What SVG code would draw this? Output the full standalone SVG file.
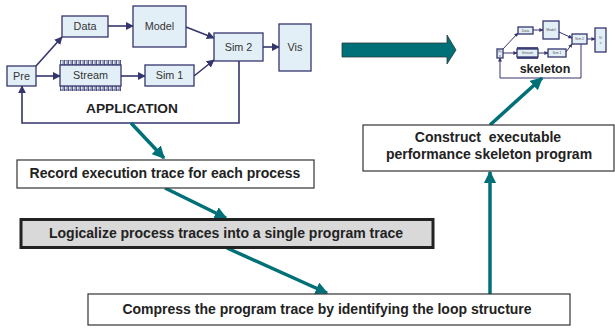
<svg xmlns="http://www.w3.org/2000/svg" width="615" height="329" viewBox="0 0 615 329">
<defs>
<style>
.n{fill:#e3eff7;stroke:#35356e;stroke-width:1.3}
.t{font-family:"Liberation Sans",Arial,sans-serif;font-size:10.8px;fill:#333;text-anchor:middle}
.mt{font-family:"Liberation Sans",Arial,sans-serif;font-size:3.5px;fill:#555;text-anchor:middle}
.b{font-family:"Liberation Sans",Arial,sans-serif;font-weight:bold;fill:#222;text-anchor:middle}
.c{fill:none;stroke:#35356e;stroke-width:1.6}
.mc{fill:none;stroke:#35356e;stroke-width:1}
.tl{fill:none;stroke:#007078;stroke-width:3.5}
.box{fill:#fff;stroke:#333;stroke-width:1.2}
</style>
<marker id="a" viewBox="0 0 10 10" refX="9" refY="5" markerWidth="5" markerHeight="5" orient="auto" markerUnits="strokeWidth"><path d="M0,0L10,5L0,10z" fill="#35356e"/></marker>
<marker id="ma" viewBox="0 0 10 10" refX="9" refY="5" markerWidth="4" markerHeight="4" orient="auto" markerUnits="strokeWidth"><path d="M0,0L10,5L0,10z" fill="#35356e"/></marker>
<marker id="ta" viewBox="0 0 10 10" refX="9" refY="5" markerWidth="3.6" markerHeight="3.6" orient="auto" markerUnits="strokeWidth"><path d="M0,0L10,5L0,10z" fill="#007078"/></marker>
<pattern id="tk" width="4" height="5" patternUnits="userSpaceOnUse"><rect x="0.5" y="0" width="2.6" height="5" fill="#e3eff7" stroke="#35356e" stroke-width="0.8"/></pattern>
<pattern id="mtk" width="1.6" height="2" patternUnits="userSpaceOnUse"><rect x="0" y="0" width="1.6" height="2" fill="#35356e"/><rect x="0.4" y="0.4" width="0.8" height="1.2" fill="#8a8ac0"/></pattern>
</defs>
<g id="connectors">
<path class="c" d="M36,66L62,37" marker-end="url(#a)"/>
<path class="c" d="M36,76L60,76" marker-end="url(#a)"/>
<path class="c" d="M108,26L133,26" marker-end="url(#a)"/>
<path class="c" d="M121,76L145,76" marker-end="url(#a)"/>
<path class="c" d="M186,27L214,38" marker-end="url(#a)"/>
<path class="c" d="M194,76L214,60" marker-end="url(#a)"/>
<path class="c" d="M263,47L279,47" marker-end="url(#a)"/>
<path class="c" d="M239,61L239,123L22,123L22,86" marker-end="url(#a)"/>
<path class="mc" d="M503,49L518,33" marker-end="url(#ma)"/>
<path class="mc" d="M503,53L517,53" marker-end="url(#ma)"/>
<path class="mc" d="M533,30L543,30" marker-end="url(#ma)"/>
<path class="mc" d="M538,53L548,53" marker-end="url(#ma)"/>
<path class="mc" d="M559,32L572,38" marker-end="url(#ma)"/>
<path class="mc" d="M566,52L572,44" marker-end="url(#ma)"/>
<path class="mc" d="M587,39L595,39" marker-end="url(#ma)"/>
<path class="mc" d="M581,44L581,78L500,78L500,58" marker-end="url(#ma)"/>
<path d="M342,43L447,43L447,35L456,50L447,64L447,57L342,57z" fill="#007078" stroke="#2a3a3a" stroke-width="0.8"/>
<path class="tl" d="M131,123L164,158" marker-end="url(#ta)"/>
<path class="tl" d="M165,188L226,218" marker-end="url(#ta)"/>
<path class="tl" d="M227,248L327,293" marker-end="url(#ta)"/>
<path class="tl" d="M490,294L490,172" marker-end="url(#ta)"/>
<path class="tl" d="M490,125L542,78" marker-end="url(#ta)"/>
</g>
<g id="pre"><rect class="n" x="7" y="66" width="29" height="20"/><text class="t" x="21.5" y="80">Pre</text></g>
<g id="data"><rect class="n" x="62" y="16" width="46" height="21"/><text class="t" x="85" y="30">Data</text></g>
<g id="model"><rect class="n" x="133" y="6" width="53" height="41"/><text class="t" x="159.5" y="30">Model</text></g>
<g id="stream"><rect x="60" y="60" width="61" height="5" fill="url(#tk)"/><rect x="60" y="86" width="61" height="5" fill="url(#tk)"/><rect class="n" x="60" y="65" width="61" height="21"/><text class="t" x="90.5" y="79">Stream</text></g>
<g id="sim1"><rect class="n" x="145" y="65" width="49" height="21"/><text class="t" x="169.5" y="79">Sim 1</text></g>
<g id="sim2"><rect class="n" x="214" y="33" width="49" height="28"/><text class="t" x="238.5" y="51">Sim 2</text></g>
<g id="vis"><rect class="n" x="279" y="24" width="32" height="47"/><text class="t" x="295" y="51">Vis</text></g>
<g id="app-label"><text class="b" x="132" y="113" font-size="13.7">APPLICATION</text></g>
<g id="skeleton">
<rect class="n" x="497" y="49" width="6" height="9" stroke-width="0.8"/><text class="mt" x="500" y="53">Pr</text><text class="mt" x="500" y="57">e</text>
<rect class="n" x="518" y="27" width="15" height="7" stroke-width="0.8"/><text class="mt" x="525.5" y="31.5">Data</text>
<rect class="n" x="543" y="21" width="16" height="18" stroke-width="0.8"/><text class="mt" x="551" y="31">Model</text>
<rect x="517" y="47" width="21" height="12" fill="url(#mtk)"/><rect class="n" x="517" y="49" width="21" height="8" stroke-width="0.8"/><text class="mt" x="527.5" y="54">Stream</text>
<rect class="n" x="548" y="49" width="18" height="8" stroke-width="0.8"/><text class="mt" x="557" y="54">Sim 1</text>
<rect class="n" x="572" y="34" width="15" height="10" stroke-width="0.8"/><text class="mt" x="579.5" y="40">Sim 2</text>
<rect class="n" x="595" y="28" width="11" height="24" stroke-width="0.8"/><text class="mt" x="600.5" y="39">Vi</text><text class="mt" x="600.5" y="44">s</text>
<text class="b" x="545" y="73" font-size="12.5">skeleton</text>
</g>
<g id="record"><rect class="box" x="17" y="160" width="297" height="28"/><text class="b" x="165" y="178" font-size="14">Record execution trace for each process</text></g>
<g id="logicalize"><rect x="21" y="219.5" width="412" height="28" fill="#d9d9d9" stroke="#222" stroke-width="3"/><text class="b" x="226" y="238" font-size="14">Logicalize process traces into a single program trace</text></g>
<g id="compress"><rect class="box" x="88" y="294" width="482" height="31"/><text class="b" x="327" y="314" font-size="14">Compress the program trace by identifying the loop structure</text></g>
<g id="construct"><rect class="box" x="363" y="125" width="251" height="46"/><text class="b" x="488" y="142" font-size="14" xml:space="preserve">Construct  executable</text><text class="b" x="489" y="159" font-size="14">performance skeleton program</text></g>
</svg>
